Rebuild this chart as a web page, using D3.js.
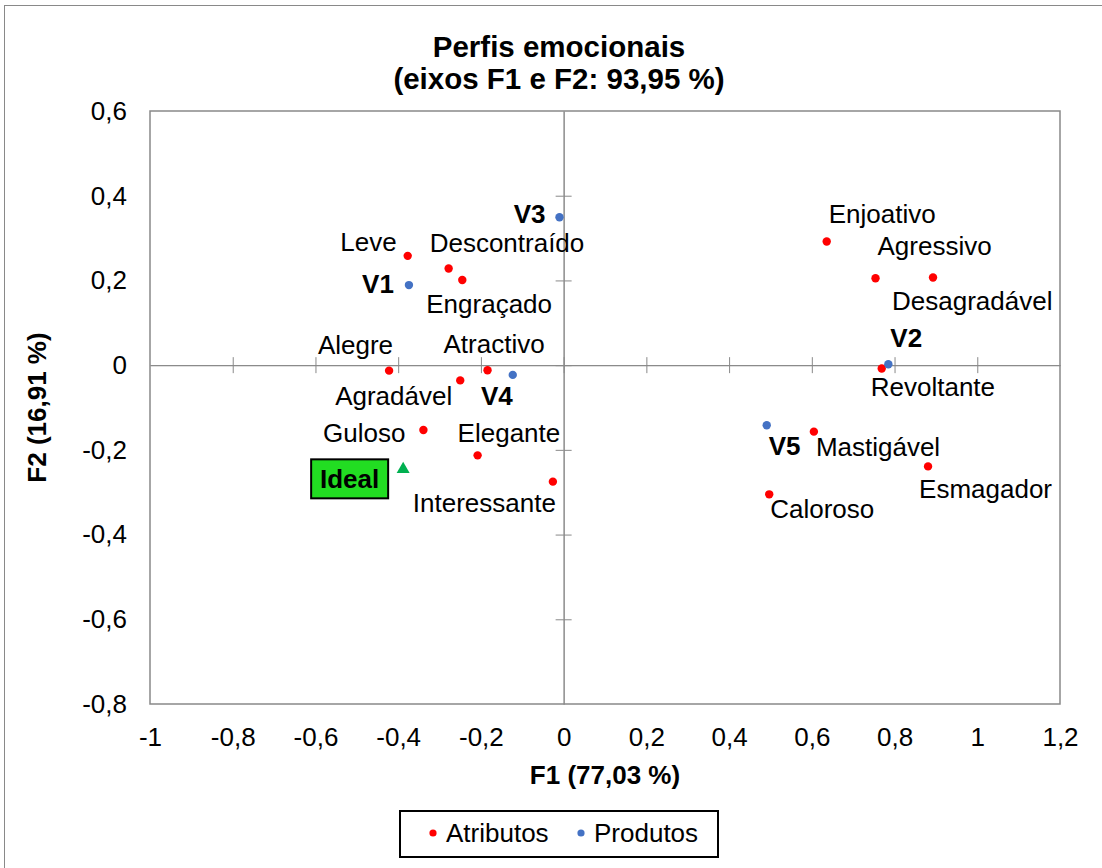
<!DOCTYPE html>
<html>
<head>
<meta charset="utf-8">
<script src="https://cdn.jsdelivr.net/npm/d3@7"></script>
<style>
  html, body { margin: 0; padding: 0; background: #fff; }
  text { font-family: Arial, "Liberation Sans", sans-serif; fill: #000; }
</style>
</head>
<body>
<div id="chart"></div>
<script>
// Atributos (red points)
const attrNames = ["Leve", "Descontraído", "Engraçado", "Enjoativo", "Agressivo", "Desagradável",
    "Revoltante", "Alegre", "Atractivo", "Agradável", "Guloso", "Elegante", "Interessante",
    "Mastigável", "Esmagador", "Caloroso"];
const attrF1 = [-0.377, -0.278, -0.245, 0.636, 0.754, 0.893, 0.769, -0.422, -0.184, -0.250,
    -0.339, -0.208, -0.026, 0.605, 0.881, 0.497];
const attrF2 = [0.258, 0.228, 0.201, 0.292, 0.205, 0.207, -0.008, -0.013, -0.012, -0.036,
    -0.153, -0.213, -0.275, -0.157, -0.239, -0.305];

// Produtos (blue points)
const prodNames = ["V1", "V2", "V3", "V4", "V5"];
const prodF1 = [-0.374, 0.785, -0.010, -0.123, 0.491];
const prodF2 = [0.189, 0.002, 0.349, -0.023, -0.142];

// Ideal product
const idealName = ["Ideal"];
const idealF1 = [-0.388];
const idealF2 = [-0.246];

// Axis ticks
const xTicks = [-1, -0.8, -0.6, -0.4, -0.2, 0, 0.2, 0.4, 0.6, 0.8, 1, 1.2];
const yTicks = [-0.8, -0.6, -0.4, -0.2, 0, 0.2, 0.4, 0.6];

// Label placement next to each point: [anchor, dx, dy]
const labelPos = {
    "Leve": ["end", -11, -5], "Descontraído": ["start", -19, -17], "Engraçado": ["start", -36, 33],
    "Enjoativo": ["start", 2, -18], "Agressivo": ["start", 2, -23], "Desagradável": ["start", -41, 33],
    "Revoltante": ["start", -11, 27], "Alegre": ["end", 4, -17], "Atractivo": ["start", -44, -17],
    "Agradável": ["end", -8, 25], "Guloso": ["end", -18, 12], "Elegante": ["start", -20, -13],
    "Interessante": ["end", 3, 30], "Mastigável": ["start", 2, 24], "Esmagador": ["start", -9, 32],
    "Caloroso": ["start", 1, 24],
    "V1": ["end", -15, 8], "V2": ["start", 2, -17], "V3": ["end", -14, 6],
    "V4": ["end", 0, 30], "V5": ["start", 2, 30]
};

const width = 1102;
const height = 868;
const grey = "#898989";

const fmt = d3.formatLocale({ decimal: ",", thousands: ".", grouping: [3], currency: ["", ""], minus: "-" })
    .format(".1~f");

const svg = d3.select("#chart")
    .append("svg")
    .attr("width", width)
    .attr("height", height);

// outer chart border
svg.append("rect")
    .attr("x", 4.5).attr("y", 5.5)
    .attr("width", 1200).attr("height", 1000)
    .attr("fill", "none").attr("stroke", grey);

const x = d3.scaleLinear().domain([-1, 1.2]).range([150, 1060]);
const y = d3.scaleLinear().domain([-0.8, 0.6]).range([704, 111]);

// plot area border
svg.append("rect")
    .attr("x", x(-1)).attr("y", y(0.6))
    .attr("width", x(1.2) - x(-1)).attr("height", y(-0.8) - y(0.6))
    .attr("fill", "none").attr("stroke", grey).attr("stroke-width", 1.5);

// zero lines with crossing tick marks
const crossAxis = (axis, transform) => {
    const g = svg.append("g").attr("transform", transform).call(axis);
    g.selectAll("text").remove();
    g.selectAll("line").attr("stroke", grey);
    g.select(".domain").attr("stroke", grey);
    return g;
};
crossAxis(d3.axisBottom(x).tickValues(xTicks.slice(1, -1)).tickSizeOuter(0).tickSizeInner(8), `translate(0,${y(0)})`);
crossAxis(d3.axisTop(x).tickValues(xTicks.slice(1, -1)).tickSizeOuter(0).tickSizeInner(8), `translate(0,${y(0)})`);
crossAxis(d3.axisLeft(y).tickValues(yTicks.slice(1, -1)).tickSizeOuter(0).tickSizeInner(8), `translate(${x(0)},0)`);
crossAxis(d3.axisRight(y).tickValues(yTicks.slice(1, -1)).tickSizeOuter(0).tickSizeInner(8), `translate(${x(0)},0)`);

// tick labels
const xLab = svg.append("g")
    .attr("transform", `translate(0,${y(-0.8)})`)
    .call(d3.axisBottom(x).tickValues(xTicks).tickFormat(fmt).tickSize(0).tickPadding(24));
xLab.select(".domain").remove();
xLab.selectAll("text").style("font-size", "26px").style("font-family", "Arial, 'Liberation Sans', sans-serif").attr("fill", "#000");

const yLab = svg.append("g")
    .attr("transform", `translate(${x(-1)},0)`)
    .call(d3.axisLeft(y).tickValues(yTicks).tickFormat(fmt).tickSize(0).tickPadding(23));
yLab.select(".domain").remove();
yLab.selectAll("text").style("font-size", "26px").style("font-family", "Arial, 'Liberation Sans', sans-serif").attr("fill", "#000");

// titles
svg.append("text")
    .attr("x", 559).attr("y", 57)
    .attr("text-anchor", "middle")
    .style("font-size", "29.5px").style("font-weight", "bold")
    .text("Perfis emocionais");
svg.append("text")
    .attr("x", 559).attr("y", 89)
    .attr("text-anchor", "middle")
    .style("font-size", "29.5px").style("font-weight", "bold")
    .text("(eixos F1 e F2: 93,95 %)");

svg.append("text")
    .attr("x", (x(-1) + x(1.2)) / 2).attr("y", 784)
    .attr("text-anchor", "middle")
    .style("font-size", "26px").style("font-weight", "bold")
    .text("F1 (77,03 %)");
svg.append("text")
    .attr("transform", `translate(46,${(y(0.6) + y(-0.8)) / 2}) rotate(-90)`)
    .attr("text-anchor", "middle")
    .style("font-size", "26px").style("font-weight", "bold")
    .text("F2 (16,91 %)");

// points
const attrs = attrNames.map((n, i) => ({ name: n, f1: attrF1[i], f2: attrF2[i] }));
const prods = prodNames.map((n, i) => ({ name: n, f1: prodF1[i], f2: prodF2[i] }));

svg.append("g").selectAll("circle")
    .data(attrs)
    .enter()
    .append("circle")
    .attr("cx", d => x(d.f1)).attr("cy", d => y(d.f2))
    .attr("r", 4.2)
    .attr("fill", "#ff0000");

svg.append("g").selectAll("circle")
    .data(prods)
    .enter()
    .append("circle")
    .attr("cx", d => x(d.f1)).attr("cy", d => y(d.f2))
    .attr("r", 4.2)
    .attr("fill", "#4472c4");

// point labels
const addLabels = (data, bold) => {
    svg.append("g").selectAll("text")
        .data(data)
        .enter()
        .append("text")
        .attr("x", d => x(d.f1) + labelPos[d.name][1])
        .attr("y", d => y(d.f2) + labelPos[d.name][2])
        .attr("text-anchor", d => labelPos[d.name][0])
        .style("font-size", "26px")
        .style("font-weight", bold ? "bold" : "normal")
        .text(d => d.name);
};
addLabels(attrs, false);
addLabels(prods, true);

// ideal point with boxed label
const ix = x(idealF1[0]), iy = y(idealF2[0]);
svg.append("path")
    .attr("d", d3.symbol().type(d3.symbolTriangle).size(73)())
    .attr("transform", `translate(${ix},${iy})`)
    .attr("fill", "#00b050");
svg.append("rect")
    .attr("x", ix - 92).attr("y", iy - 10)
    .attr("width", 77).attr("height", 39)
    .attr("fill", "#22dd22").attr("stroke", "#000").attr("stroke-width", 2);
svg.append("text")
    .attr("x", ix - 92 + 38.5).attr("y", iy + 19)
    .attr("text-anchor", "middle")
    .style("font-size", "26px").style("font-weight", "bold")
    .text(idealName[0]);

// legend
const legend = svg.append("g");
legend.append("rect")
    .attr("x", 400).attr("y", 811)
    .attr("width", 318).attr("height", 46)
    .attr("fill", "#fff").attr("stroke", "#000").attr("stroke-width", 2);
const legendItems = [["Atributos", "#ff0000", 433], ["Produtos", "#4472c4", 581]];
legend.selectAll("circle")
    .data(legendItems)
    .enter()
    .append("circle")
    .attr("cx", d => d[2]).attr("cy", 833)
    .attr("r", 3.6)
    .attr("fill", d => d[1]);
legend.selectAll("text")
    .data(legendItems)
    .enter()
    .append("text")
    .attr("x", d => d[2] + 13).attr("y", 842)
    .style("font-size", "26px")
    .text(d => d[0]);
</script>
</body>
</html>
